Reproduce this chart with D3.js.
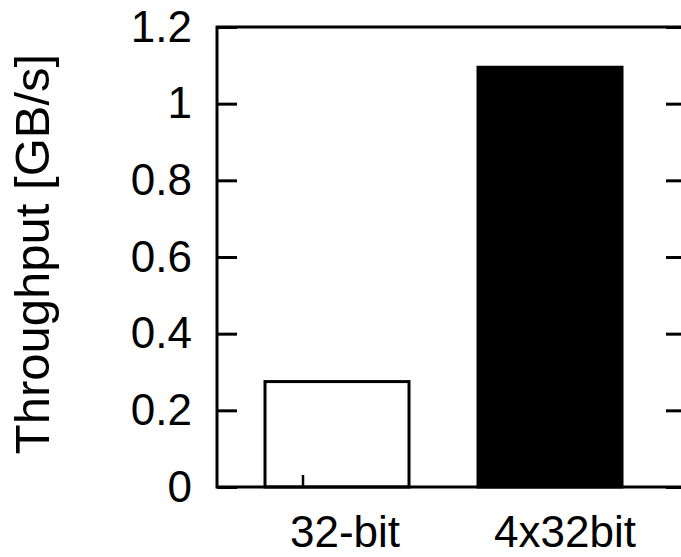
<!DOCTYPE html>
<html>
<head>
<meta charset="utf-8">
<script src="https://cdn.jsdelivr.net/npm/d3@7"></script>
<style>
  html, body { margin: 0; padding: 0; background: #fff; }
  svg { display: block; }
  text { font-family: Helvetica, Arial, "Liberation Sans", sans-serif; fill: #000; }
</style>
</head>
<body>
<div id="chart"></div>
<script>
// Throughput per access width
const categories = ['32-bit', '4x32bit'];
const throughput = [0.275, 1.095];
const barFill = ['#ffffff', '#000000'];
const yTicks = [0, 0.2, 0.4, 0.6, 0.8, 1, 1.2];
const yTickLabels = ['0', '0.2', '0.4', '0.6', '0.8', '1', '1.2'];

const W = 681, H = 557;
// frame runs past the right edge of the picture
const frame = { left: 217, right: 686, top: 27, bottom: 487 };

const svg = d3.select('#chart').append('svg')
  .attr('width', W).attr('height', H);

const y = d3.scaleLinear().domain([0, 1.2]).range([frame.bottom, frame.top]);
// category positions (gnuplot histogram: ticks sit left of the bars)
const x = d3.scaleLinear().domain([0, 1]).range([303, 516]);
const xLabel = d3.scaleLinear().domain([0, 1]).range([345, 565]);
const barOffset = 34, barW = 144;

// bars
svg.append('g').selectAll('rect').data(throughput)
  .join('rect')
  .attr('x', (d, i) => x(i) + barOffset - barW / 2)
  .attr('y', d => y(d))
  .attr('width', barW)
  .attr('height', d => frame.bottom - y(d))
  .attr('fill', (d, i) => barFill[i])
  .attr('stroke', '#000')
  .attr('stroke-width', 3);

// x ticks (second one disappears into the black bar)
svg.append('g').selectAll('line').data(categories)
  .join('line')
  .attr('x1', (d, i) => x(i)).attr('x2', (d, i) => x(i))
  .attr('y1', frame.bottom).attr('y2', frame.bottom - 12)
  .attr('stroke', '#000').attr('stroke-width', 2.5);

// left axis, ticks pointing inward
const fmt = d => yTickLabels[yTicks.indexOf(d)];
const left = svg.append('g')
  .attr('transform', `translate(${frame.left},0)`)
  .call(d3.axisLeft(y).tickValues(yTicks).tickFormat(fmt)
    .tickSizeInner(-20).tickSizeOuter(0).tickPadding(25));
left.select('.domain').remove();
left.selectAll('line').attr('stroke-width', 3);
left.selectAll('text').attr('font-size', 44).style('font-family', 'Helvetica, Arial, "Liberation Sans", sans-serif');

// right axis ticks
const right = svg.append('g')
  .attr('transform', `translate(${frame.right},0)`)
  .call(d3.axisRight(y).tickValues(yTicks).tickFormat('')
    .tickSizeInner(-20).tickSizeOuter(0));
right.select('.domain').remove();
right.selectAll('line').attr('stroke-width', 3);

// frame
svg.append('rect')
  .attr('x', frame.left).attr('y', frame.top)
  .attr('width', frame.right - frame.left)
  .attr('height', frame.bottom - frame.top)
  .attr('fill', 'none').attr('stroke', '#000').attr('stroke-width', 3);

// category labels
svg.append('g').selectAll('text').data(categories)
  .join('text')
  .attr('x', (d, i) => xLabel(i))
  .attr('y', 547)
  .attr('text-anchor', 'middle')
  .attr('font-size', 44)
  .text(d => d);

// y title
svg.append('text')
  .attr('transform', 'translate(49,254) rotate(-90)')
  .attr('text-anchor', 'middle')
  .attr('font-size', 49)
  .text('Throughput [GB/s]');
</script>
</body>
</html>
